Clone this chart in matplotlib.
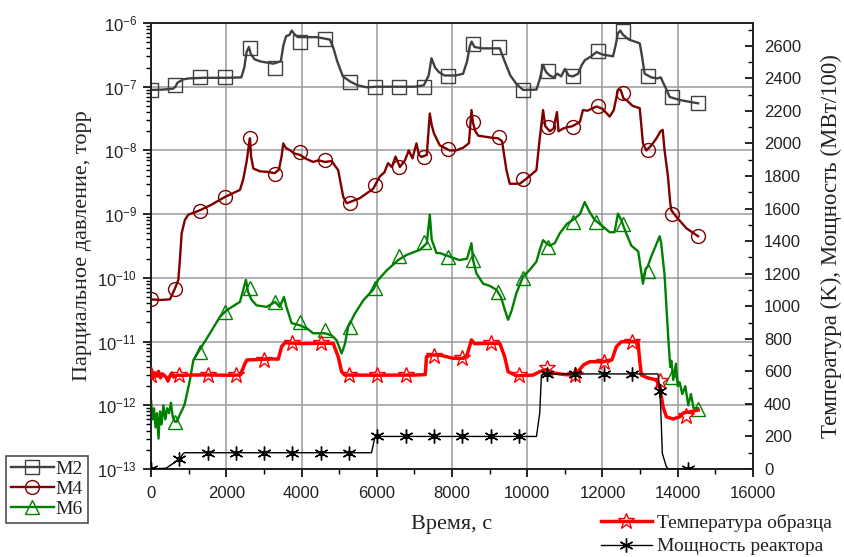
import numpy as np
import matplotlib
matplotlib.use("Agg")
import matplotlib.pyplot as plt
from matplotlib.lines import Line2D
from matplotlib.ticker import LogLocator, FuncFormatter, NullFormatter, MultipleLocator

# ---------------- data ----------------
m2_t = [0, 300, 585, 650, 700, 850, 1000, 1400, 2000, 2400, 2480, 2540, 2600, 2650, 2750, 2900,
        3250, 3450, 3520, 3590, 3680, 3740, 3800, 3900, 4100, 4400, 4755, 4850, 4950, 5100, 5300,
        5500, 5730, 6000, 6500, 7000, 7250, 7380, 7455, 7550, 7650, 7800, 7940, 8100, 8295, 8400,
        8473, 8520, 8600, 8800, 9000, 9270, 9400, 9550, 9713, 9890, 10245, 10330, 10420, 10500,
        10600, 10700, 10800, 10900, 11000, 11100, 11215, 11350, 11450, 11530, 11700, 11840, 12000,
        12280, 12350, 12410, 12470, 12550, 12700, 12990, 13050, 13120, 13300, 13450, 13550, 13600,
        13700, 13785, 14050, 14300, 14540]
m2_p = [8.9e-8, 9.0e-8, 9.3e-8, 1.0e-7, 1.15e-7, 1.3e-7, 1.35e-7, 1.38e-7, 1.38e-7, 1.4e-7, 2.0e-7,
        3.5e-7, 4.2e-7, 3.3e-7, 2.7e-7, 2.5e-7, 2.3e-7, 2.5e-7, 4.5e-7, 6.2e-7, 6.5e-7, 7.6e-7, 6.8e-7,
        6.0e-7, 6.0e-7, 6.0e-7, 5.5e-7, 4.0e-7, 2.5e-7, 1.45e-7, 1.2e-7, 1.05e-7, 9.8e-8, 1.0e-7,
        1.0e-7, 1.0e-7, 1.05e-7, 1.5e-7, 2.8e-7, 2.0e-7, 1.7e-7, 1.5e-7, 1.5e-7, 1.5e-7, 1.6e-7,
        2.5e-7, 4.3e-7, 5.1e-7, 4.2e-7, 4.0e-7, 4.0e-7, 4.0e-7, 2.5e-7, 1.5e-7, 1.1e-7, 8.9e-8, 9.0e-8,
        1.3e-7, 2.2e-7, 1.7e-7, 1.5e-7, 1.4e-7, 1.6e-7, 1.45e-7, 1.9e-7, 1.5e-7, 1.45e-7, 1.6e-7,
        2.2e-7, 2.6e-7, 3.0e-7, 3.5e-7, 3.2e-7, 3.0e-7, 4.5e-7, 6.9e-7, 7.6e-7, 6.5e-7, 5.5e-7,
        4.8e-7, 3.0e-7, 1.6e-7, 1.4e-7, 1.35e-7, 1.4e-7, 1.2e-7, 9.0e-8, 6.9e-8, 6.2e-8, 5.8e-8, 5.5e-8]
m2_mk_t = [0, 640, 1300, 1965, 2630, 3290, 3960, 4620, 5290, 5960, 6600, 7250, 7900, 8560, 9240,
           9890, 10540, 11220, 11880, 12540, 13200, 13860, 14540]
m2_mk_p = [8.9e-8, 1.05e-7, 1.4e-7, 1.4e-7, 4.0e-7, 2.0e-7, 5.1e-7, 5.7e-7, 1.2e-7, 9.8e-8, 1.0e-7,
           1.0e-7, 1.48e-7, 4.6e-7, 4.2e-7, 9.0e-8, 1.75e-7, 1.45e-7, 3.7e-7, 7.4e-7, 1.45e-7, 6.8e-8, 5.5e-8]

m4_t = [0, 250, 505, 640, 727, 770, 815, 900, 990, 1300, 1600, 1965, 2364, 2450, 2540, 2600, 2630,
        2660, 2720, 2895, 3100, 3290, 3400, 3470, 3515, 3580, 3700, 3800, 3960, 4100, 4310, 4450,
        4620, 4800, 4975, 5110, 5200, 5350, 5550, 5905, 6080, 6200, 6300, 6400, 6500, 6615, 6750,
        6850, 6950, 7055, 7120, 7190, 7330, 7410, 7460, 7520, 7675, 7800, 7940, 8100, 8295, 8450,
        8518, 8560, 8620, 8700, 8826, 9000, 9224, 9330, 9447, 9535, 9800, 9978, 10244, 10330, 10420,
        10480, 10600, 10700, 10790, 10830, 10950, 11050, 11200, 11400, 11480, 11600, 11840, 12000,
        12190, 12300, 12410, 12480, 12560, 12635, 12800, 12990, 13075, 13165, 13300, 13450, 13540,
        13600, 13650, 13740, 13800, 13830, 13960, 14230, 14540]
m4_p = [4.6e-11, 4.5e-11, 4.6e-11, 6.9e-11, 9.3e-11, 2.0e-10, 5.0e-10, 8.1e-10, 9.8e-10, 1.15e-9,
        1.4e-9, 1.86e-9, 2.4e-9, 3.5e-9, 6.6e-9, 1.2e-8, 1.55e-8, 8.0e-9, 5.2e-9, 4.7e-9, 4.6e-9,
        4.4e-9, 5.0e-9, 8.0e-9, 1.29e-8, 1.1e-8, 1.0e-8, 9.0e-9, 8.5e-9, 7.5e-9, 6.6e-9, 7.0e-9,
        6.6e-9, 6.8e-9, 4.9e-9, 1.86e-9, 1.48e-9, 1.6e-9, 1.78e-9, 2.5e-9, 3.9e-9, 4.5e-9, 6.3e-9,
        5.5e-9, 8.0e-9, 5.5e-9, 7.0e-9, 1.0e-8, 7.5e-9, 1.29e-8, 8.5e-9, 7.9e-9, 8.5e-9, 3.8e-8,
        2.5e-8, 1.86e-8, 1.2e-8, 1.1e-8, 1.0e-8, 1.0e-8, 1.1e-8, 1.3e-8, 4.3e-8, 2.7e-8, 2.0e-8,
        1.7e-8, 1.66e-8, 1.6e-8, 1.55e-8, 1.4e-8, 4.9e-9, 3.0e-9, 3.0e-9, 3.6e-9, 4.9e-9, 1.5e-8,
        4.3e-8, 2.4e-8, 2.0e-8, 2.2e-8, 4.0e-8, 2.0e-8, 2.2e-8, 2.3e-8, 2.4e-8, 2.8e-8, 4.3e-8,
        4.2e-8, 4.9e-8, 4.5e-8, 3.4e-8, 4.3e-8, 8.9e-8, 9.0e-8, 6.5e-8, 6.2e-8, 5.0e-8, 4.6e-8,
        1.29e-8, 1.0e-8, 1.2e-8, 1.6e-8, 2.0e-8, 2.1e-8, 1.0e-8, 3.9e-9, 1.5e-9, 1.15e-9, 9.1e-10,
        6.0e-10, 4.5e-10]
m4_mk_t = m2_mk_t
m4_mk_p = [4.6e-11, 6.8e-11, 1.12e-9, 1.86e-9, 1.55e-8, 4.2e-9, 9.3e-9, 7.2e-9, 1.48e-9, 2.9e-9,
           5.4e-9, 7.9e-9, 1.05e-8, 2.8e-8, 1.6e-8, 3.5e-9, 2.3e-8, 2.3e-8, 4.9e-8, 7.9e-8, 1.0e-8,
           1.0e-9, 4.5e-10]

m6_t = [0, 40, 80, 120, 160, 200, 240, 280, 330, 380, 430, 480, 530, 580, 640, 680, 760, 850, 900,
        1035, 1125, 1345, 1567, 1833, 2010, 2364, 2452, 2523, 2580, 2675, 2807, 3073, 3300, 3420,
        3533, 3600, 3737, 3958, 4150, 4311, 4622, 4800, 4932, 5065, 5150, 5241, 5418, 5650, 5904,
        6037, 6260, 6568, 6800, 7145, 7330, 7410, 7460, 7587, 7676, 7941, 8200, 8400, 8517, 8560,
        8650, 8827, 9000, 9182, 9300, 9400, 9491, 9580, 9713, 9890, 10050, 10245, 10332, 10420,
        10510, 10600, 10730, 10864, 11050, 11262, 11400, 11527, 11650, 11793, 12000, 12190, 12320,
        12411, 12500, 12630, 12766, 12950, 13075, 13150, 13200, 13300, 13520, 13560, 13650, 13740,
        13800, 13829, 13880, 13950, 14000, 14050, 14120, 14200, 14280, 14350, 14420, 14540]
m6_p = [1.2e-12, 6.0e-13, 9.0e-13, 4.5e-13, 7.5e-13, 3.0e-13, 8.0e-13, 5.0e-13, 1.0e-12, 6.0e-13,
        9.0e-13, 7.5e-13, 1.1e-12, 6.5e-13, 5.5e-13, 5.5e-13, 7.0e-13, 9.0e-13, 1.07e-12, 2.5e-12,
        5.1e-12, 8.3e-12, 1.35e-11, 2.45e-11, 3.1e-11, 4.2e-11, 6.5e-11, 9.3e-11, 6.0e-11, 4.5e-11,
        3.7e-11, 3.5e-11, 4.2e-11, 3.5e-11, 5.0e-11, 3.5e-11, 1.95e-11, 1.8e-11, 1.6e-11, 1.35e-11,
        1.35e-11, 1.25e-11, 1.05e-11, 6.5e-12, 9.0e-12, 1.7e-11, 2.75e-11, 4.5e-11, 6.5e-11, 9.3e-11,
        1.3e-10, 1.9e-10, 2.3e-10, 2.75e-10, 3.5e-10, 9.8e-10, 4.0e-10, 2.45e-10, 2.45e-10, 2.15e-10,
        1.9e-10, 2.0e-10, 3.5e-10, 1.9e-10, 1.17e-10, 8.1e-11, 7.5e-11, 6.5e-11, 5.0e-11, 3.2e-11,
        2.2e-11, 3.0e-11, 5.8e-11, 1.05e-10, 1.3e-10, 1.8e-10, 2.75e-10, 3.9e-10, 3.5e-10, 3.2e-10,
        3.5e-10, 5.0e-10, 7.0e-10, 8.5e-10, 1.0e-9, 1.55e-9, 1.1e-9, 8.1e-10, 6.5e-10, 5.2e-10,
        5.2e-10, 1.02e-9, 8.0e-10, 5.0e-10, 3.2e-10, 2.6e-10, 8.1e-11, 1.4e-10, 1.5e-10, 2.2e-10,
        4.5e-10, 3.5e-10, 1.1e-10, 1.35e-11, 4.0e-12, 5.0e-12, 2.5e-12, 4.5e-12, 2.0e-12, 2.3e-12,
        1.5e-12, 2.0e-12, 1.0e-12, 1.5e-12, 9.0e-13, 9.0e-13]
m6_mk_t = [640, 1300, 1965, 2630, 3290, 3960, 4620, 5290, 5960, 6600, 7250, 7900, 8560, 9220,
           9890, 10550, 11215, 11840, 12540, 13200, 13860, 14540]
m6_mk_p = [5.5e-13, 6.9e-12, 2.9e-11, 6.9e-11, 4.2e-11, 2.0e-11, 1.5e-11, 1.7e-11, 6.9e-11, 2.2e-10,
           3.7e-10, 2.1e-10, 1.9e-10, 6.0e-11, 9.8e-11, 3.1e-10, 7.6e-10, 7.6e-10, 7.1e-10, 1.26e-10,
           2.8e-12, 8.9e-13]

temp_t = [0, 50, 100, 150, 200, 250, 300, 350, 400, 450, 500, 550, 600, 700, 800, 1000, 1500, 2000,
          2364, 2450, 2497, 2550, 2800, 2985, 3200, 3383, 3471, 3560, 3700, 4000, 4400, 4842, 4975,
          5065, 5150, 5500, 6000, 6500, 7000, 7290, 7322, 7450, 7676, 8030, 8300, 8400, 8517, 8600,
          9000, 9270, 9400, 9491, 9713, 10155, 10332, 10500, 10700, 11000, 11217, 11350, 11500,
          11660, 12013, 12250, 12368, 12500, 12943, 12988, 13033, 13200, 13432, 13520, 13609, 13697,
          13874, 14050, 14150, 14300, 14540]
temp_K = [610, 560, 590, 570, 600, 560, 585, 575, 565, 540, 570, 590, 565, 577, 575, 577, 578, 576,
          577, 620, 649, 670, 672, 674, 676, 675, 751, 776, 774, 770, 772, 772, 690, 598, 577, 577,
          576, 577, 577, 580, 690, 700, 700, 680, 680, 700, 793, 770, 772, 772, 690, 598, 573, 577,
          598, 610, 590, 580, 577, 600, 640, 659, 659, 670, 751, 782, 782, 670, 577, 560, 547, 506,
          383, 321, 307, 320, 345, 350, 362]
temp_mk_t = [0, 752, 1504, 2256, 3008, 3760, 4512, 5264, 6016, 6768, 7520, 8272, 9024, 9776, 10528,
             11280, 12032, 12784, 13536, 14230]
temp_mk_K = [577, 577, 577, 577, 672, 776, 772, 577, 577, 577, 695, 680, 772, 575, 620, 577, 659, 782,
             540, 325]

power_t = [0, 400, 593, 752, 858, 900, 5861, 5950, 6000, 10245, 10332, 10376, 10450, 13476, 13520,
           13550, 13590, 13697, 13750, 14300]
power_v = [0, 5, 35, 60, 96, 100, 100, 195, 200, 200, 344, 577, 584, 584, 485, 362, 96, 14, 0, 0]
power_mk_t = [0, 752, 1504, 2256, 3008, 3760, 4512, 5264, 6016, 6768, 7520, 8272, 9024, 9776, 10528,
              11280, 12032, 12784, 13520, 14272]
power_mk_v = [0, 60, 100, 100, 100, 100, 100, 100, 200, 200, 200, 200, 200, 200, 584, 584, 584, 584,
              480, 0]

x_label = "Время, с"
y_label_left = "Парциальное давление, торр"
y_label_right = "Температура (K), Мощность (МВт/100)"
names_left = ["M2", "M4", "M6"]
names_right = ["Температура образца", "Мощность реактора"]

# ---------------- styling ----------------
plt.rcParams['font.family'] = ['Liberation Sans', 'DejaVu Sans']
plt.rcParams['mathtext.fontset'] = 'custom'
plt.rcParams['mathtext.rm'] = 'Liberation Sans'
plt.rcParams['mathtext.it'] = 'Liberation Sans'
plt.rcParams['mathtext.default'] = 'regular'
SERIF = ['Liberation Serif', 'DejaVu Serif']
TXT = '#222222'

c_m2, c_m4, c_m6 = '#404040', '#800000', '#008000'
c_t, c_p = '#ff0000', '#000000'

W, H = 845, 557
fig = plt.figure(figsize=(W / 100, H / 100), dpi=100)
L, R, T, B = 151, 753, 23, 469
ax = fig.add_axes([L / W, (H - B) / H, (R - L) / W, (B - T) / H])
ax2 = ax.twinx()

# pressure series
lw = 1.7
ms = 10
ax.plot(m2_t, m2_p, color=c_m2, lw=lw, zorder=3)
ax.plot(m2_mk_t, m2_mk_p, ls='none', marker='s', ms=ms, mfc='none', mec=c_m2, mew=1.0, zorder=3)
ax.plot(m4_t, m4_p, color=c_m4, lw=lw, zorder=3)
ax.plot(m4_mk_t, m4_mk_p, ls='none', marker='o', ms=ms, mfc='none', mec=c_m4, mew=1.0, zorder=3)
ax.plot(m6_t, m6_p, color=c_m6, lw=lw, zorder=3)
ax.plot(m6_mk_t, m6_mk_p, ls='none', marker='^', ms=ms, mfc='none', mec=c_m6, mew=1.0, zorder=3)

ax.set_yscale('log')
ax.set_xlim(0, 16000)
ax.set_ylim(1e-13, 1e-6)
ax.xaxis.set_major_locator(MultipleLocator(2000))
ax.xaxis.set_minor_locator(MultipleLocator(1000))
ax.yaxis.set_major_locator(LogLocator(base=10, numticks=20))
ax.yaxis.set_minor_locator(LogLocator(base=10, subs=np.arange(2, 10), numticks=20))
ax.yaxis.set_minor_formatter(NullFormatter())
ax.yaxis.set_major_formatter(FuncFormatter(lambda v, p: r'$\mathregular{10^{%d}}$' % int(round(np.log10(v)))))
ax.grid(True, which='major', color='#9a9a9a', lw=1.1, zorder=0)
ax.set_axisbelow(True)
ax.tick_params(axis='both', which='major', direction='out', length=6, width=1.2, labelsize=12,
               labelcolor=TXT, pad=4)
ax.tick_params(axis='both', which='minor', direction='out', length=3.5, width=1.0)
ax.tick_params(axis='x', which='major', pad=6)

# temperature / power
ax2.plot(temp_t, temp_K, color=c_t, lw=2.5, zorder=4)
ax2.plot(temp_mk_t, temp_mk_K, ls='none', marker='*', ms=12, mfc='none', mec=c_t, mew=1.0, zorder=4)
ax2.plot(power_t, power_v, color=c_p, lw=1.0, zorder=4)
ax2.plot(power_mk_t, power_mk_v, ls='none', marker=(6, 2, 0), ms=10, mec=c_p, mew=1.0, zorder=4)
ax2.plot(power_mk_t, power_mk_v, ls='none', marker='o', ms=3, mfc=c_p, mec=c_p, zorder=4)
ax2.set_ylim(0, 2740)
ax2.yaxis.set_major_locator(MultipleLocator(200))
ax2.yaxis.set_minor_locator(MultipleLocator(100))
ax2.tick_params(axis='y', which='major', direction='in', length=6, width=1.2, labelsize=12,
                labelcolor=TXT, pad=8)
ax2.tick_params(axis='y', which='minor', direction='in', length=3.5, width=1.0)

for a in (ax, ax2):
    for s in a.spines.values():
        s.set_linewidth(1.3)
        s.set_color('#222222')

ax.set_xlabel(x_label, fontsize=16, family=SERIF, color=TXT, labelpad=10)
ax.set_ylabel(y_label_left, fontsize=16, family=SERIF, color=TXT, labelpad=4)
ax2.set_ylabel(y_label_right, fontsize=16.5, family=SERIF, color=TXT, labelpad=14)

# legends
h_left = [Line2D([], [], color=c_m2, lw=lw, marker='s', ms=ms, mfc='none', mec=c_m2),
          Line2D([], [], color=c_m4, lw=lw, marker='o', ms=ms, mfc='none', mec=c_m4),
          Line2D([], [], color=c_m6, lw=lw, marker='^', ms=ms, mfc='none', mec=c_m6)]
leg1 = fig.legend(h_left, names_left, loc='lower left', bbox_to_anchor=(6 / W, (H - 523) / H),
                  borderaxespad=0, frameon=True, fancybox=False, edgecolor='#222222',
                  handlelength=2.2, handletextpad=0.1, borderpad=0.25, labelspacing=0.12,
                  prop={'family': SERIF, 'size': 14})
leg1.get_frame().set_linewidth(1.2)
for t in leg1.get_texts():
    t.set_color(TXT)

h_right = [Line2D([], [], color=c_t, lw=2.5, marker='*', ms=12, mfc='none', mec=c_t),
           Line2D([], [], color=c_p, lw=1.0, marker=(6, 2, 0), ms=10, mec=c_p)]
leg2 = fig.legend(h_right, names_right, loc='upper left', bbox_to_anchor=(601 / W, (H - 514) / H),
                  borderaxespad=0, frameon=False, handlelength=2.6, handletextpad=0.3,
                  borderpad=0.0, labelspacing=0.3, prop={'family': SERIF, 'size': 14})
for t in leg2.get_texts():
    t.set_color(TXT)

fig.savefig('out.png', dpi=100)
